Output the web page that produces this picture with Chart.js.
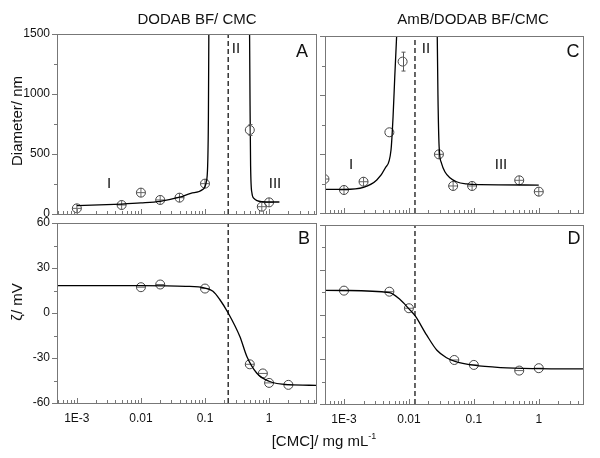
<!DOCTYPE html>
<html>
<head>
<meta charset="utf-8">
<script src="https://cdn.jsdelivr.net/npm/chart.js@4.4.1/dist/chart.umd.min.js"></script>
<style>
  body { margin: 0; background: #fff; }
  #wrap { position: relative; width: 600px; height: 458px; font-family: "Liberation Sans", Arial, sans-serif; color: #111; }
  #wrap canvas { position: absolute; left: 0; top: 0; }
  .t { position: absolute; white-space: nowrap; transform: translate(-50%, -50%); line-height: 1; }
  .rot { transform: translate(-50%, -50%) rotate(-90deg); }
</style>
</head>
<body>
<div id="wrap">
  <canvas id="pA" width="600" height="458"></canvas>
  <canvas id="pB" width="600" height="458"></canvas>
  <canvas id="pC" width="600" height="458"></canvas>
  <canvas id="pD" width="600" height="458"></canvas>

  <div class="t" style="left:197px;top:18px;font-size:15px">DODAB BF/ CMC</div>
  <div class="t" style="left:473px;top:18px;font-size:15px">AmB/DODAB BF/CMC</div>
  <div class="t rot" style="left:16px;top:121px;font-size:15px">Diameter/ nm</div>
  <div class="t rot" style="left:16px;top:302px;font-size:15px">ζ/ mV</div>
  <div class="t" style="left:324px;top:440px;font-size:15px">[CMC]/ mg mL<span style="font-size:9px;position:relative;top:-7px">-1</span></div>

  <div class="t" style="left:302px;top:51px;font-size:18px">A</div>
  <div class="t" style="left:304px;top:238px;font-size:18px">B</div>
  <div class="t" style="left:573px;top:51px;font-size:18px">C</div>
  <div class="t" style="left:574px;top:238px;font-size:18px">D</div>

  <div class="t" style="left:109px;top:182px;font-size:15px">I</div>
  <div class="t" style="left:236px;top:47px;font-size:15px">II</div>
  <div class="t" style="left:275px;top:182px;font-size:15px">III</div>
  <div class="t" style="left:351px;top:163px;font-size:15px">I</div>
  <div class="t" style="left:426px;top:47px;font-size:15px">II</div>
  <div class="t" style="left:501px;top:163px;font-size:15px">III</div>
</div>
<script>
// tick labels
const xMajorTicks = [0.001, 0.01, 0.1, 1];
const xTickLabels = ['1E-3', '0.01', '0.1', '1'];
const diamTicks = [0, 500, 1000, 1500];
const zetaTicks = [-60, -30, 0, 30, 60];

// A - DODAB BF/CMC, diameter
const aX = [0.001, 0.005, 0.01, 0.02, 0.04, 0.1, 0.5, 0.77, 1.0];
const aY = [47, 75, 178, 117, 136, 253, 700, 61, 97];
const aMark = ['+', '+', '+', '+', '+', '+', 'o', '+', '+'];
const aErr = [0, 0, 0, 0, 0, 0, 45, 0, 0];
const aFit1X = [0.001, 0.005, 0.01, 0.02, 0.04, 0.06, 0.093, 0.104, 0.11, 0.113, 0.115];
const aFit1Y = [69, 83, 92, 106, 140, 172, 206, 260, 400, 800, 1600];
const aFit2X = [0.495, 0.505, 0.515, 0.54, 0.58, 0.65, 0.8, 1.0, 1.45];
const aFit2Y = [1600, 900, 400, 175, 130, 111, 102, 100, 100];
const aDash = 0.23;

// B - DODAB BF/CMC, zeta
const bX = [0.01, 0.02, 0.1, 0.5, 0.8, 1.0, 2.0];
const bY = [17.2, 19, 16.3, -34.2, -40.3, -46.6, -47.9];
const bFitX = [0.0005, 0.01, 0.05, 0.1, 0.133, 0.17, 0.23, 0.35, 0.45, 0.64, 1, 2, 5.5];
const bFitY = [18.3, 18.3, 17.8, 16.6, 14.5, 9, 0, -15.7, -29, -40, -45.5, -47.8, -48.2];

// C - AmB/DODAB BF/CMC, diameter
const cX = [0.0005, 0.001, 0.002, 0.005, 0.008, 0.029, 0.048, 0.094, 0.5, 1.0];
const cY = [288, 195, 265, 684, 1283, 497, 229, 229, 277, 181];
const cMark = ['+', '+', '+', 'o', 'o', '+', '+', '+', '+', '+'];
const cErr = [0, 0, 0, 0, 80, 0, 0, 0, 0, 0];
const cFit1X = [0.0005, 0.001, 0.002, 0.0032, 0.0043, 0.0053, 0.0057, 0.00605, 0.0066];
const cFit1Y = [201, 201, 218, 280, 379, 534, 816, 1150, 1600];
const cFit2X = [0.0272, 0.028, 0.0292, 0.0318, 0.0358, 0.0428, 0.054, 0.077, 0.124, 1.0];
const cFit2Y = [1600, 1000, 562, 421, 350, 299, 265, 246, 240, 237];
const cDash = 0.0124;

// D - AmB/DODAB BF/CMC, zeta
const dX = [0.001, 0.005, 0.01, 0.05, 0.1, 0.5, 1.0];
const dY = [16, 15.3, 4.2, -30.5, -33.8, -37.6, -36];
const dFitX = [0.0005, 0.001, 0.005, 0.0073, 0.01, 0.0125, 0.0187, 0.027, 0.038, 0.05, 0.1, 0.26, 1, 4.8];
const dFitY = [16.2, 16.1, 14.6, 10, 3.8, -1, -13.7, -24, -29, -31.2, -34, -35.6, -36.3, -36.5];

const FONT = { family: '"Liberation Sans", Arial, sans-serif', size: 12 };
const AXIS = '#777';

function pts(xs, ys) { return xs.map((x, i) => ({ x: x, y: ys[i] })); }

function logTicks(min, max) {
  const out = [];
  for (let e = -4; e <= 1; e++) {
    for (let m = 1; m <= 9; m++) {
      const v = +(m * Math.pow(10, e)).toPrecision(3);
      if (v >= min && v <= max) out.push(v);
    }
  }
  return out;
}
function isMajorX(v) { return xMajorTicks.findIndex(t => Math.abs(t - v) / t < 1e-6); }

// frame, inward x ticks, outward y ticks, error bars
const framePlugin = {
  id: 'frame',
  afterDatasetsDraw(chart, args, opts) {
    const ctx = chart.ctx, a = chart.chartArea, sx = chart.scales.x, sy = chart.scales.y;
    ctx.save();
    ctx.strokeStyle = '#555';
    ctx.lineWidth = 1;
    (opts.err || []).forEach(e => {
      const px = Math.round(sx.getPixelForValue(e.x)) + 0.5;
      const y1 = sy.getPixelForValue(e.y - e.e), y2 = sy.getPixelForValue(e.y + e.e);
      ctx.beginPath();
      ctx.moveTo(px, y1); ctx.lineTo(px, y2);
      ctx.moveTo(px - 2, y1); ctx.lineTo(px + 2, y1);
      ctx.moveTo(px - 2, y2); ctx.lineTo(px + 2, y2);
      ctx.stroke();
    });
    ctx.strokeStyle = AXIS;
    ctx.strokeRect(a.left + 0.5, a.top + 0.5, a.right - a.left, a.bottom - a.top);
    ctx.beginPath();
    sx.ticks.forEach(t => {
      const px = Math.round(sx.getPixelForValue(t.value)) + 0.5;
      if (px < a.left || px > a.right) return;
      const len = isMajorX(t.value) >= 0 ? 5 : 3;
      ctx.moveTo(px, a.bottom); ctx.lineTo(px, a.bottom - len);
    });
    sy.ticks.forEach(t => {
      const py = Math.round(sy.getPixelForValue(t.value)) + 0.5;
      const len = opts.yMajor.includes(t.value) ? 5 : 3;
      ctx.moveTo(a.left, py); ctx.lineTo(a.left - len, py);
    });
    ctx.stroke();
    ctx.restore();
  }
};

function panel(id, area, p) {
  const yw = p.yLabels ? area.l : 0;
  const xh = p.xLabels ? 30 : 0;
  const ds = [];
  ds.push({ data: [{ x: p.dash, y: p.yMin }, { x: p.dash, y: p.yMax }], showLine: true,
            borderColor: '#000', borderWidth: 1.2, borderDash: [5, 3], pointRadius: 0 });
  p.fits.forEach(f => ds.push({ data: f, showLine: true, borderColor: '#000', borderWidth: 1.3,
            pointRadius: 0, cubicInterpolationMode: 'monotone' }));
  ds.push({ data: p.points, pointStyle: 'circle', pointRadius: 4.5, borderColor: '#444',
            backgroundColor: 'rgba(0,0,0,0)', pointBorderWidth: 1, clip: 0 });
  if (p.inner.length) {
    ds.push({ data: p.inner, pointStyle: p.innerStyle, pointRadius: 4.5, borderColor: '#666',
              pointBorderWidth: 1, clip: 0 });
  }
  new Chart(document.getElementById(id), {
    type: 'scatter',
    data: { datasets: ds },
    options: {
      responsive: false, animation: false, devicePixelRatio: 1,
      layout: { padding: { left: area.l - yw, top: area.t, right: 600 - area.r, bottom: 458 - area.b - xh } },
      plugins: { legend: { display: false }, tooltip: { enabled: false },
                 frame: { err: p.err, yMajor: p.yMajor } },
      scales: {
        x: {
          type: 'logarithmic', min: p.xMin, max: p.xMax,
          grid: { display: false, drawTicks: false }, border: { display: false },
          afterBuildTicks: s => { s.ticks = logTicks(p.xMin, p.xMax).map(v => ({ value: v })); },
          afterFit: s => { s.height = xh; },
          ticks: { display: p.xLabels, autoSkip: false, maxRotation: 0, padding: 8, font: FONT, color: '#111',
                   callback: v => { const i = isMajorX(v); return i >= 0 ? xTickLabels[i] : ''; } }
        },
        y: {
          min: p.yMin, max: p.yMax,
          grid: { display: false, drawTicks: false }, border: { display: false },
          afterBuildTicks: s => {
            const t = [];
            for (let v = p.yMin; v <= p.yMax; v += p.yStep) t.push({ value: v });
            s.ticks = t;
          },
          afterFit: s => { s.width = yw; },
          ticks: { display: p.yLabels, autoSkip: false, padding: 7, font: FONT, color: '#111',
                   callback: v => p.yMajor.includes(v) ? String(v) : '' }
        }
      }
    },
    plugins: [framePlugin]
  });
}

function inner(xs, ys, marks, m) {
  return pts(xs, ys).filter((_, i) => marks[i] === m);
}
function errs(xs, ys, es) {
  return xs.map((x, i) => ({ x: x, y: ys[i], e: es[i] })).filter(e => e.e > 0);
}

panel('pA', { l: 57, t: 34, r: 316, b: 214 }, {
  xMin: 0.00049, xMax: 5.4, yMin: 0, yMax: 1500, yStep: 250, yMajor: diamTicks,
  yLabels: true, xLabels: false, dash: aDash,
  fits: [pts(aFit1X, aFit1Y), pts(aFit2X, aFit2Y)],
  points: pts(aX, aY), inner: inner(aX, aY, aMark, '+'), innerStyle: 'cross', err: errs(aX, aY, aErr)
});
panel('pB', { l: 57, t: 223, r: 316, b: 403 }, {
  xMin: 0.00049, xMax: 5.4, yMin: -60, yMax: 60, yStep: 15, yMajor: zetaTicks,
  yLabels: true, xLabels: true, dash: aDash,
  fits: [pts(bFitX, bFitY)],
  points: pts(bX, bY), inner: pts(bX, bY), innerStyle: 'line', err: []
});
panel('pC', { l: 325, t: 36, r: 583, b: 213 }, {
  xMin: 0.00051, xMax: 4.8, yMin: 0, yMax: 1500, yStep: 250, yMajor: diamTicks,
  yLabels: false, xLabels: false, dash: cDash,
  fits: [pts(cFit1X, cFit1Y), pts(cFit2X, cFit2Y)],
  points: pts(cX, cY), inner: inner(cX, cY, cMark, '+'), innerStyle: 'cross', err: errs(cX, cY, cErr)
});
panel('pD', { l: 325, t: 225, r: 583, b: 404 }, {
  xMin: 0.00051, xMax: 4.8, yMin: -60, yMax: 60, yStep: 15, yMajor: zetaTicks,
  yLabels: false, xLabels: true, dash: cDash,
  fits: [pts(dFitX, dFitY)],
  points: pts(dX, dY), inner: pts(dX, dY), innerStyle: 'line', err: []
});
</script>
</body>
</html>
